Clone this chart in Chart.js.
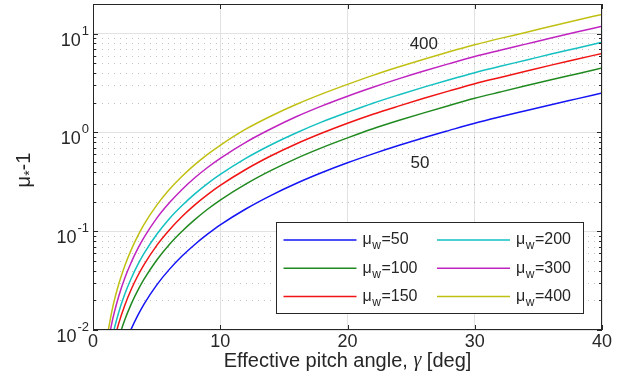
<!DOCTYPE html>
<html lang="en">
<head>
<meta charset="UTF-8">
<title>mu* - 1 vs effective pitch angle</title>
<script src="https://cdn.jsdelivr.net/npm/chart.js"></script>
<style>
  html, body { margin: 0; padding: 0; background: #fff; }
  canvas { display: block; }
</style>
</head>
<body>
<canvas id="grafico" width="624" height="392"></canvas>
<script>
  // effective pitch angle (deg) and the six curves
  const gammaDeg = [1, 1.5, 2, 2.5, 3, 3.5, 4, 5, 6, 7, 8, 9, 10, 12, 14, 16, 18, 20, 22, 24, 26, 28, 30, 32, 34, 36, 38, 40];
  const muW = [50, 100, 150, 200, 300, 400];
  const curve50  = [0.00113, 0.00255, 0.00454, 0.00709, 0.0102, 0.0139, 0.0182, 0.0285, 0.0411, 0.0561, 0.0735, 0.0933, 0.116, 0.168, 0.231, 0.306, 0.393, 0.493, 0.607, 0.737, 0.885, 1.05, 1.24, 1.44, 1.66, 1.91, 2.19, 2.51];
  const curve100 = [0.00203, 0.00456, 0.00811, 0.0127, 0.0183, 0.0249, 0.0325, 0.0509, 0.0735, 0.100, 0.131, 0.167, 0.207, 0.300, 0.413, 0.547, 0.702, 0.881, 1.09, 1.32, 1.58, 1.88, 2.22, 2.57, 2.97, 3.42, 3.92, 4.49];
  const curve150 = [0.00285, 0.00641, 0.0114, 0.0178, 0.0257, 0.0350, 0.0457, 0.0716, 0.103, 0.141, 0.185, 0.235, 0.291, 0.422, 0.581, 0.769, 0.987, 1.24, 1.53, 1.85, 2.22, 2.64, 3.12, 3.61, 4.17, 4.81, 5.51, 6.32];
  const curve200 = [0.00369, 0.00830, 0.0148, 0.0231, 0.0332, 0.0453, 0.0592, 0.0926, 0.134, 0.182, 0.239, 0.304, 0.376, 0.547, 0.752, 0.995, 1.28, 1.60, 1.98, 2.40, 2.88, 3.42, 4.03, 4.68, 5.39, 6.23, 7.13, 8.18];
  const curve300 = [0.00536, 0.0121, 0.0215, 0.0336, 0.0483, 0.0658, 0.0861, 0.135, 0.194, 0.265, 0.348, 0.442, 0.547, 0.795, 1.09, 1.45, 1.86, 2.33, 2.87, 3.49, 4.19, 4.98, 5.87, 6.80, 7.85, 9.06, 10.4, 11.9];
  const curve400 = [0.00707, 0.0159, 0.0285, 0.0448, 0.0648, 0.0888, 0.117, 0.183, 0.264, 0.360, 0.472, 0.600, 0.742, 1.08, 1.47, 1.93, 2.46, 3.07, 3.79, 4.60, 5.52, 6.56, 7.73, 8.97, 10.3, 11.9, 13.7, 15.7];
  const curves = [curve50, curve100, curve150, curve200, curve300, curve400];
  const colores = ['#1414f5', '#208a20', '#f01414', '#14c0c0', '#c024c0', '#c0c014'];

  const xTicks = [0, 10, 20, 30, 40];
  const yMajor = [0.01, 0.1, 1, 10];
  const yExpo = ['-2', '-1', '0', '1'];

  // curve labels inside the plot
  const notaTexto = ['400', '50'];
  const notaGamma = [26, 25.7];
  const notaValor = [7.9, 0.49];

  const TXT = '#262626';
  const FONT = '"Liberation Sans", Arial, sans-serif';

  const matlabEjes = {
    id: 'matlabEjes',
    beforeDatasetsDraw(chart) {
      const { ctx, chartArea: a, scales: { y } } = chart;
      ctx.save();
      ctx.strokeStyle = 'rgba(38,38,38,0.28)';
      ctx.lineWidth = 1;
      ctx.setLineDash([1, 5]);
      yMajor.forEach(d => {
        for (let m = 2; m <= 9; m++) {
          const v = m * d;
          if (v > y.max) break;
          const py = Math.round(y.getPixelForValue(v)) + 0.5;
          ctx.beginPath();
          ctx.moveTo(a.left + 3, py);
          ctx.lineTo(a.right, py);
          ctx.stroke();
        }
      });
      ctx.restore();
    },
    afterDatasetsDraw(chart) {
      const { ctx, chartArea: a, scales: { x, y } } = chart;
      ctx.save();
      // caja
      ctx.strokeStyle = TXT;
      ctx.lineWidth = 1;
      ctx.strokeRect(a.left + 0.5, a.top + 0.5, a.right - a.left - 1, a.bottom - a.top - 1);
      // ticks hacia dentro
      ctx.beginPath();
      xTicks.forEach(v => {
        const px = Math.round(x.getPixelForValue(v)) + 0.5;
        ctx.moveTo(px, a.bottom); ctx.lineTo(px, a.bottom - 5);
        ctx.moveTo(px, a.top); ctx.lineTo(px, a.top + 5);
      });
      yMajor.forEach(d => {
        const py = Math.round(y.getPixelForValue(d)) + 0.5;
        ctx.moveTo(a.left, py); ctx.lineTo(a.left + 5, py);
        ctx.moveTo(a.right, py); ctx.lineTo(a.right - 5, py);
        for (let m = 2; m <= 9; m++) {
          const v = m * d;
          if (v > y.max) break;
          const pm = Math.round(y.getPixelForValue(v)) + 0.5;
          ctx.moveTo(a.left, pm); ctx.lineTo(a.left + 3, pm);
          ctx.moveTo(a.right, pm); ctx.lineTo(a.right - 3, pm);
        }
      });
      ctx.stroke();

      // notas 400 / 50
      ctx.fillStyle = TXT;
      ctx.font = '17px ' + FONT;
      ctx.textAlign = 'center';
      ctx.textBaseline = 'middle';
      notaTexto.forEach((t, i) => {
        ctx.fillText(t, x.getPixelForValue(notaGamma[i]), y.getPixelForValue(notaValor[i]));
      });

      // leyenda
      const L = a.right - 326, T = a.bottom - 108, W = 308, H = 92;
      ctx.fillStyle = '#fff';
      ctx.fillRect(L, T, W, H);
      ctx.strokeStyle = TXT;
      ctx.strokeRect(L + 0.5, T + 0.5, W - 1, H - 1);
      chart.data.datasets.forEach((ds, i) => {
        const col = Math.floor(i / 3), row = i % 3;
        const x0 = L + 7.5 + col * 153.5;
        const yc = T + 18 + row * 28.3;
        ctx.strokeStyle = ds.borderColor;
        ctx.lineWidth = 1.5;
        ctx.beginPath();
        ctx.moveTo(x0, yc); ctx.lineTo(x0 + 73, yc);
        ctx.stroke();
        ctx.fillStyle = TXT;
        ctx.textAlign = 'left';
        ctx.textBaseline = 'middle';
        let tx = x0 + 79;
        ctx.font = '16px ' + FONT;
        ctx.fillText('μ', tx, yc);
        tx += ctx.measureText('μ').width + 0.5;
        ctx.font = '12px ' + FONT;
        ctx.fillText('w', tx, yc + 6);
        tx += ctx.measureText('w').width + 0.5;
        ctx.font = '16px ' + FONT;
        ctx.fillText('=' + muW[i], tx, yc);
      });
      ctx.restore();
    },
    afterDraw(chart) {
      const { ctx, chartArea: a, scales: { x, y } } = chart;
      ctx.save();
      ctx.fillStyle = TXT;
      // etiquetas x
      ctx.font = '18px ' + FONT;
      ctx.textAlign = 'center';
      ctx.textBaseline = 'middle';
      xTicks.forEach(v => ctx.fillText(String(v), x.getPixelForValue(v), a.bottom + 12));
      // etiquetas y: 10^n
      yMajor.forEach((d, i) => {
        const py = y.getPixelForValue(d);
        ctx.textBaseline = 'alphabetic';
        ctx.textAlign = 'right';
        ctx.font = '13px ' + FONT;
        const ew = ctx.measureText(yExpo[i]).width;
        const xr = a.left - 4;
        ctx.fillText(yExpo[i], xr, py + 1);
        ctx.font = '18px ' + FONT;
        ctx.fillText('10', xr - ew - 1, py + 12);
      });
      // titulo x
      const partes = [['Effective pitch angle, ', '20px ' + FONT], ['γ', 'italic 20px "Liberation Serif", serif'], [' [deg]', '20px ' + FONT]];
      let total = 0;
      partes.forEach(p => { ctx.font = p[1]; total += ctx.measureText(p[0]).width; });
      let tx = (a.left + a.right) / 2 - total / 2;
      ctx.textAlign = 'left';
      ctx.textBaseline = 'middle';
      partes.forEach(p => { ctx.font = p[1]; ctx.fillText(p[0], tx, a.bottom + 31); tx += ctx.measureText(p[0]).width; });
      // titulo y: mu_* - 1
      ctx.translate(24, (a.top + a.bottom) / 2 + 3);
      ctx.rotate(-Math.PI / 2);
      ctx.font = '20px ' + FONT;
      const w1 = ctx.measureText('μ').width;
      ctx.font = '14px ' + FONT;
      const w2 = ctx.measureText('*').width;
      ctx.font = '20px ' + FONT;
      const w3 = ctx.measureText('-1').width;
      let sx = -(w1 + w2 + w3) / 2;
      ctx.fillText('μ', sx, 0); sx += w1;
      ctx.font = '14px ' + FONT;
      ctx.fillText('*', sx, 6); sx += w2;
      ctx.font = '20px ' + FONT;
      ctx.fillText('-1', sx, 0);
      ctx.restore();
    }
  };

  new Chart(document.getElementById('grafico'), {
    type: 'line',
    data: {
      datasets: curves.map((c, i) => ({
        label: 'μw=' + muW[i],
        data: gammaDeg.map((g, j) => ({ x: g, y: c[j] })),
        borderColor: colores[i],
        borderWidth: 1.5,
        pointRadius: 0,
        fill: false,
        cubicInterpolationMode: 'monotone'
      }))
    },
    options: {
      responsive: false,
      animation: false,
      events: [],
      layout: { padding: { left: 93, right: 22, top: 4, bottom: 62 } },
      plugins: { legend: { display: false }, tooltip: { enabled: false } },
      scales: {
        x: {
          type: 'linear', min: 0, max: 40,
          ticks: { display: false, stepSize: 10 },
          grid: { color: '#e2e2e2', drawTicks: false },
          border: { display: false }
        },
        y: {
          type: 'logarithmic', min: 0.01, max: 20,
          afterBuildTicks: s => { s.ticks = yMajor.map(v => ({ value: v })); },
          ticks: { display: false },
          grid: { color: '#e2e2e2', drawTicks: false },
          border: { display: false }
        }
      }
    },
    plugins: [matlabEjes]
  });
</script>
</body>
</html>
